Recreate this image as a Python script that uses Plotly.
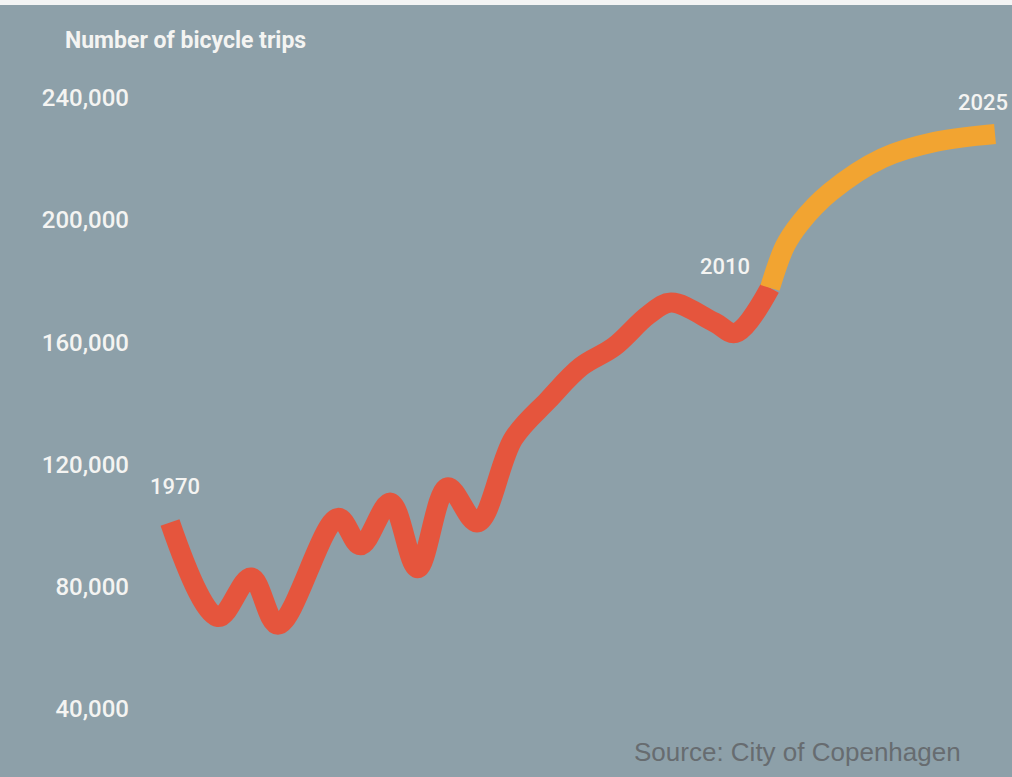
import plotly.graph_objects as go

# ---- data ----
hist_years = [1970, 1973.2, 1975.4, 1977.2, 1981.2, 1982.7, 1984.7, 1986.5, 1988.5,
              1990.5, 1992.9, 1995.2, 1997.4, 1999.6, 2001.9, 2003.4, 2006.3, 2007.7, 2010]
hist_trips = [101000, 70000, 83000, 67500, 102500, 93500, 107500, 86000, 112500,
              101000, 128500, 141000, 152000, 158500, 169000, 173000, 166500, 163000, 177800]

goal_years = [2010, 2011, 2012, 2014, 2017.5, 2021, 2025]
goal_trips = [177800, 191500, 199000, 209100, 220300, 225600, 228200]

tick_vals = [40000, 80000, 120000, 160000, 200000, 240000]
tick_text = ["40,000", "80,000", "120,000", "160,000", "200,000", "240,000"]

year_labels = ["1970", "2010", "2025"]

BG = "#8da0a9"
RED = "#e5553d"
ORANGE = "#f2a431"
WHITE = "#f4f4f2"

fig = go.Figure()
fig.add_trace(go.Scatter(x=hist_years, y=hist_trips, mode="lines",
                         line=dict(color=RED, width=20, shape="spline", smoothing=1.0),
                         hoverinfo="skip", showlegend=False))
fig.add_trace(go.Scatter(x=goal_years, y=goal_trips, mode="lines",
                         line=dict(color=ORANGE, width=20, shape="spline", smoothing=1.0),
                         hoverinfo="skip", showlegend=False))

L = 130
W = 1012 - L
fig.update_layout(
    width=1012, height=777,
    margin=dict(l=L, r=0, t=0, b=0),
    paper_bgcolor=BG, plot_bgcolor=BG,
    xaxis=dict(range=[1967.333, 2026.133], visible=False, showgrid=False, zeroline=False),
    yaxis=dict(range=[17640, 272060], showgrid=False, zeroline=False, showline=False,
               tickvals=tick_vals, ticktext=tick_text, ticks="",
               tickfont=dict(family="Roboto", size=24, color=WHITE, weight=500)),
    font=dict(family="Roboto", color=WHITE),
    hovermode=False,
)

annos = [
    dict(x=hist_years[0], y=hist_trips[0], text=year_labels[0], xanchor="center", yanchor="bottom",
         xshift=5, yshift=21),
    dict(x=goal_years[0], y=goal_trips[0], text=year_labels[1], xanchor="right", yanchor="middle",
         xshift=-18, yshift=21),
    dict(x=goal_years[-1], y=goal_trips[-1], text=year_labels[2], xanchor="right", yanchor="bottom",
         xshift=15, yshift=17),
]
for a in annos:
    fig.add_annotation(xref="x", yref="y", showarrow=False,
                       font=dict(family="Roboto", size=22, color=WHITE, weight=500), **a)

fig.add_annotation(xref="paper", yref="paper", x=(63 - L) / W, y=1 - 40 / 777,
                   xanchor="left", yanchor="middle", showarrow=False,
                   text="<b>Number of bicycle trips</b>",
                   font=dict(family="Roboto", size=23, color=WHITE))
fig.add_annotation(xref="paper", yref="paper", x=(963 - L) / W, y=1 - 752 / 777,
                   xanchor="right", yanchor="middle", showarrow=False,
                   text="Source: City of Copenhagen",
                   font=dict(family="Liberation Sans", size=26, color="#676c70"))

fig.add_shape(type="rect", xref="paper", yref="paper", x0=-L / W, x1=1, y0=1 - 5 / 777, y1=1,
              line=dict(width=0), fillcolor="#f3f4f4", layer="above")

fig.write_html("out.html", config={"displayModeBar": False, "staticPlot": True},
               post_script="document.body.style.margin='0px';document.body.style.overflow='hidden';")
